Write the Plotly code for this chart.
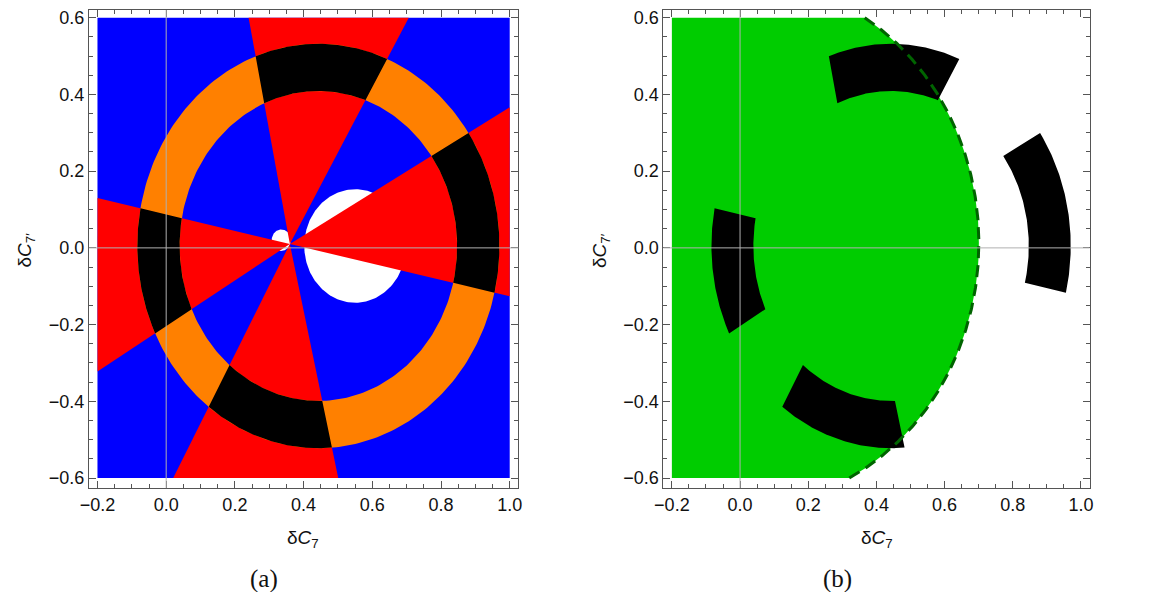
import numpy as np
import plotly.graph_objects as go

# ---------------- data ----------------
X_RANGE = [-0.2, 1.0]
Y_RANGE = [-0.6, 0.6]
X_TICKS = [-0.2, 0.0, 0.2, 0.4, 0.6, 0.8, 1.0]
Y_TICKS = [-0.6, -0.4, -0.2, 0.0, 0.2, 0.4, 0.6]

# wedge regions radiating from a common apex (angles in degrees, data space)
WEDGE_APEX = [0.36, 0.01]
RED_WEDGE_ANGLES = [[59.6, 101.5], [167.9, 210.7], [240.9, 283.0], [-12.0, 29.1]]

# annulus (allowed band)
RING_CENTER = [0.443, 0.005]
RING_RADII = [0.404, 0.527]

# excluded (white) disks near the apex: cx, cy, r
WHITE_DISKS = [[0.55, 0.005, 0.148], [0.335, 0.02, 0.028]]

# panel (b) allowed disk
GREEN_CENTER = [0.0175, 0.0124]
GREEN_RADIUS = 0.683

BLUE = "#0000ff"
RED = "#ff0000"
ORANGE = "#ff8000"
BLACK = "#000000"
GREEN = "#00cc00"
DARKGREEN = "#006400"


# ---------------- geometry helpers ----------------
def clip_box(pts, xmin, xmax, ymin, ymax):
    def clip(poly, inside, inter):
        out = []
        n = len(poly)
        for i in range(n):
            cur = poly[i]
            prev = poly[i - 1]
            if inside(cur):
                if not inside(prev):
                    out.append(inter(prev, cur))
                out.append(cur)
            elif inside(prev):
                out.append(inter(prev, cur))
        return out

    def ix(xc):
        def f(p, q):
            t = (xc - p[0]) / (q[0] - p[0])
            return (xc, p[1] + t * (q[1] - p[1]))
        return f

    def iy(yc):
        def f(p, q):
            t = (yc - p[1]) / (q[1] - p[1])
            return (p[0] + t * (q[0] - p[0]), yc)
        return f

    poly = list(pts)
    poly = clip(poly, lambda p: p[0] >= xmin, ix(xmin))
    if poly:
        poly = clip(poly, lambda p: p[0] <= xmax, ix(xmax))
    if poly:
        poly = clip(poly, lambda p: p[1] >= ymin, iy(ymin))
    if poly:
        poly = clip(poly, lambda p: p[1] <= ymax, iy(ymax))
    return poly


def box_clip(pts):
    return clip_box(pts, X_RANGE[0], X_RANGE[1], Y_RANGE[0], Y_RANGE[1])


def wedge_poly(a1, a2):
    ax, ay = WEDGE_APEX
    th = np.radians(np.linspace(a1, a2, 40))
    pts = [(ax, ay)] + [(ax + 3 * np.cos(t), ay + 3 * np.sin(t)) for t in th]
    return box_clip(pts)


def ray_hit(theta, R):
    ax, ay = WEDGE_APEX
    cx, cy = RING_CENTER
    ux, uy = np.cos(theta), np.sin(theta)
    dx, dy = ax - cx, ay - cy
    b = dx * ux + dy * uy
    c = dx * dx + dy * dy - R * R
    t = -b + np.sqrt(b * b - c)
    return (ax + t * ux, ay + t * uy)


def ring_sector(a1, a2):
    th = np.radians(np.linspace(a1, a2, 80))
    outer = [ray_hit(t, RING_RADII[1]) for t in th]
    inner = [ray_hit(t, RING_RADII[0]) for t in th[::-1]]
    return outer + inner


def disk(cx, cy, r, n=200):
    th = np.linspace(0, 2 * np.pi, n)
    return [(cx + r * np.cos(t), cy + r * np.sin(t)) for t in th]


def annulus():
    cx, cy = RING_CENTER
    th = np.linspace(0, 2 * np.pi, 300)
    outer = [(cx + RING_RADII[1] * np.cos(t), cy + RING_RADII[1] * np.sin(t)) for t in th]
    inner = [(cx + RING_RADII[0] * np.cos(t), cy + RING_RADII[0] * np.sin(t)) for t in th[::-1]]
    return outer + inner


def poly_trace(pts, color, xa="x", ya="y"):
    xs = [p[0] for p in pts] + [pts[0][0]]
    ys = [p[1] for p in pts] + [pts[0][1]]
    return go.Scatter(x=xs, y=ys, mode="lines", fill="toself", fillcolor=color,
                      line=dict(width=0, color=color), hoverinfo="skip",
                      showlegend=False, xaxis=xa, yaxis=ya)


fig = go.Figure()

# ---------------- panel (a) ----------------
box = [(X_RANGE[0], Y_RANGE[0]), (X_RANGE[1], Y_RANGE[0]),
       (X_RANGE[1], Y_RANGE[1]), (X_RANGE[0], Y_RANGE[1])]
fig.add_trace(poly_trace(box, BLUE))
for cx, cy, r in WHITE_DISKS:
    fig.add_trace(poly_trace(box_clip(disk(cx, cy, r)), "#ffffff"))
for a1, a2 in RED_WEDGE_ANGLES:
    fig.add_trace(poly_trace(wedge_poly(a1, a2), RED))
fig.add_trace(poly_trace(annulus(), ORANGE))
for a1, a2 in RED_WEDGE_ANGLES:
    fig.add_trace(poly_trace(ring_sector(a1, a2), BLACK))

# ---------------- panel (b) ----------------
gpts = box_clip(disk(GREEN_CENTER[0], GREEN_CENTER[1], GREEN_RADIUS, 400))
fig.add_trace(poly_trace(gpts, GREEN, "x2", "y2"))
for a1, a2 in RED_WEDGE_ANGLES:
    fig.add_trace(poly_trace(ring_sector(a1, a2), BLACK, "x2", "y2"))

gx, gy = GREEN_CENTER
t_top = np.arcsin((Y_RANGE[1] - gy) / GREEN_RADIUS)
t_bot = np.arcsin((Y_RANGE[0] - gy) / GREEN_RADIUS)
tt = np.linspace(t_top, t_bot, 300)
fig.add_trace(go.Scatter(x=gx + GREEN_RADIUS * np.cos(tt), y=gy + GREEN_RADIUS * np.sin(tt),
                         mode="lines", line=dict(color=DARKGREEN, width=3, dash="12px,7px"),
                         hoverinfo="skip", showlegend=False, xaxis="x2", yaxis="y2"))

# ---------------- axes / layout ----------------
# page body has an 8px margin: work in reference pixel coords minus 8
OFF = 8
W, H = 1164 - OFF, 592 - OFF
FRAME = "#555555"
TICKFONT = dict(family="Liberation Sans, Arial, sans-serif", size=18, color="#111111")


def px(v):
    return (v - OFF) / W


def py(v):
    return min(1.0, max(0.0, 1 - (v - OFF) / H))


# vertical: y=0 at ref pixel 246.7, 385 px per unit; frame bottom 487.7, top clamped at 8
Y_PX_PER_UNIT = 385.0
y_lo = -(487.7 - 246.7) / Y_PX_PER_UNIT
y_hi = (246.7 - OFF) / Y_PX_PER_UNIT


def xaxis(domain, anchor):
    return dict(domain=domain, anchor=anchor, range=[-0.225, 1.025],
                tickvals=X_TICKS, tickformat=".1f", ticks="inside", ticklen=7,
                tickcolor=FRAME, tickwidth=1, showline=True, linecolor=FRAME,
                linewidth=1, mirror="ticks", showgrid=False, zeroline=False,
                tickfont=TICKFONT, ticklabeloverflow="allow",
                minor=dict(dtick=0.05, tick0=0, ticks="inside", ticklen=4,
                           tickcolor=FRAME, showgrid=False))


def yaxis(domain, anchor):
    return dict(domain=domain, anchor=anchor, range=[y_lo, y_hi],
                tickvals=Y_TICKS, tickformat=".1f", ticks="inside", ticklen=7,
                tickcolor=FRAME, tickwidth=1, showline=True, linecolor=FRAME,
                linewidth=1, mirror="ticks", showgrid=False, zeroline=False,
                tickfont=TICKFONT, ticklabeloverflow="allow",
                minor=dict(dtick=0.05, tick0=0, ticks="inside", ticklen=4,
                           tickcolor=FRAME, showgrid=False))


ydom = [py(487.7), 1.0]
fig.update_layout(
    width=W, height=H,
    margin=dict(l=0, r=0, t=0, b=0),
    paper_bgcolor="white", plot_bgcolor="white",
    xaxis=xaxis([px(80.7), px(515)], "y"),
    yaxis=yaxis(ydom, "x"),
    xaxis2=xaxis([px(661.7), px(1092.7)], "y2"),
    yaxis2=yaxis(ydom, "x2"),
)

# zero axes drawn on top
AX_GRAY = "#b0b0b0"
for xr, yr in (("x", "y"), ("x2", "y2")):
    fig.add_shape(type="line", xref=xr, yref=yr + " domain", x0=0, x1=0, y0=0, y1=1,
                  line=dict(color=AX_GRAY, width=1), layer="above")
    fig.add_shape(type="line", xref=xr + " domain", yref=yr, x0=0, x1=1, y0=0, y1=0,
                  line=dict(color=AX_GRAY, width=1), layer="above")

LABFONT = dict(family="Liberation Sans, Arial, sans-serif", size=19, color="#111111")
SERIF = dict(family="Liberation Serif, DejaVu Serif, serif", size=25, color="#111111")
for xlab, ylab, plab, name in ((297.5, 17.5, 257.7, "(a)"), (877.5, 598.5, 837.7, "(b)")):
    fig.add_annotation(x=px(xlab), y=py(539), xref="paper", yref="paper",
                       xanchor="center", yanchor="middle",
                       text="δ<i>C</i><sub>7</sub>", showarrow=False, font=LABFONT)
    fig.add_annotation(x=px(ylab), y=py(249), xref="paper", yref="paper",
                       xanchor="center", yanchor="middle",
                       text="δ<i>C</i><sub>7′</sub>", showarrow=False, font=LABFONT,
                       textangle=-90)
    fig.add_annotation(x=px(plab), y=py(579), xref="paper", yref="paper",
                       xanchor="center", yanchor="middle",
                       text=name, showarrow=False, font=SERIF)

fig.write_html("out.html")
